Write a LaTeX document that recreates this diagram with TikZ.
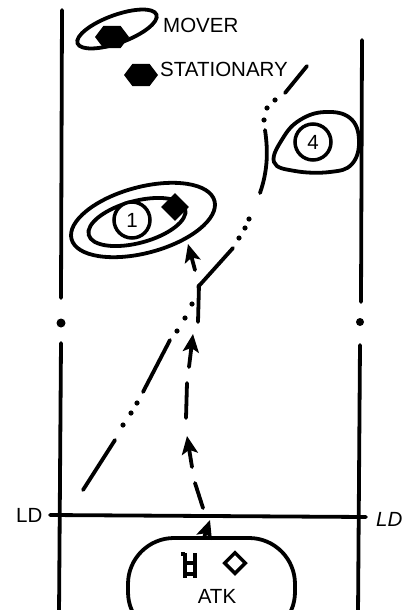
\documentclass[tikz,border=0pt]{standalone}
\usepackage{fontspec}
\setmainfont{Liberation Sans}
\usetikzlibrary{arrows.meta,shapes.geometric,positioning}

\begin{document}
\begin{tikzpicture}[x=1pt, y=-1pt,
  bold/.style={line width=3.8pt, line cap=round},
  arr/.style={-{Stealth[length=18pt, width=16pt, inset=4pt]}, line width=3.8pt, line cap=round},
  lbl/.style={font=\fontsize{20.5}{20.5}\selectfont, inner sep=0pt},
  hexa/.style={regular polygon, regular polygon sides=6, fill=black, minimum size=34pt, inner sep=0pt, yscale=0.76},
  num/.style={circle, draw, line width=3.5pt, minimum size=36pt, inner sep=0pt, font=\fontsize{20.5}{20.5}\selectfont}
]
\useasboundingbox (0,0) rectangle (412,610);

% boundaries
\draw[bold] (62,10) -- (61,298);
\draw[bold] (61,343) -- (59,615);
\draw[bold] (362,40) -- (361,302);
\draw[bold] (360,345) -- (358,615);
\fill (61,323) circle (4.5pt);
\fill (360,322) circle (4pt);

% line of departure
\draw[bold] (50,515) -- (366,517);
\node[lbl, anchor=west] (ldw) at (16,515) {LD};
\node[lbl, anchor=west] (lde) at (376,519) {\itshape LD};

% legend
\draw[bold] (117,29) ellipse [x radius=42, y radius=14, rotate=20];
\node[hexa] (hexmover) at (112,37) {};
\node[lbl, anchor=west] (mover) at (163,25) {MOVER};
\node[hexa] (hexstat) at (141,75) {};
\node[lbl, anchor=west] (stat) at (160,69) {STATIONARY};

% objective 1
\draw[bold] (143,220) ellipse [x radius=74, y radius=33, rotate=15];
\draw[bold] (137,222) ellipse [x radius=50, y radius=21, rotate=15];
\node[num, fill=white] (obj1) at (132,220) {1};
\node[diamond, fill=black, minimum size=28pt, inner sep=0pt] (tgt) at (175,207) {};

% objective 4
\draw[bold] plot[smooth cycle, tension=0.7] coordinates {(274,162) (295,171) (330,172) (352,164) (359,140) (350,118) (325,112) (300,120) (283,138)};
\node[num] (obj4) at (313,142) {4};

% attack position
\node[draw, line width=3.8pt, rounded corners=46pt, minimum width=167pt, minimum height=100pt] (atk) at (211.5,588) {};
\draw[line width=3.5pt] (181,554) -- (185,554) (185,553) -- (185,578) (195,553) -- (195,578)
  (185,563) -- (195,563) (185,574) -- (195,574);
\node[diamond, draw, line width=3.5pt, minimum size=22pt, inner sep=0pt] (atkdia) at (235,563) {};
\node[lbl] (atklbl) at (217,596) {ATK};

% axis of advance
\coordinate (a1) at (210,520);
\draw[arr] ([xshift=-7pt]atk.north) -- (a1);
\draw[bold] (203,508) -- (195,483);
\draw[arr] (192,467) -- (187,436);
\draw[bold] (186,418) -- (187,383);
\draw[arr] (189,367) -- (193,334);
\draw[bold] (198,322) -- (199,285);
\draw[arr] (195,270) -- (188,244);

% route of mover
\draw[bold] (83,490) -- (115,440);
\draw[bold] (143,392) -- (170,340);
\draw[bold] (198,287) -- (233,248);
\draw[bold] (260,193) .. controls (268,170) and (268,150) .. (265,130);
\draw[bold] (285,93) -- (307,66);
\foreach \p in {(123,425),(131,413),(137,403),(177,331),(185,318),(192,304),
  (239,238),(245,228),(249,219),(264,120),(267,108),(275,100)}
  \fill \p circle (2.6pt);
\end{tikzpicture}
\end{document}
